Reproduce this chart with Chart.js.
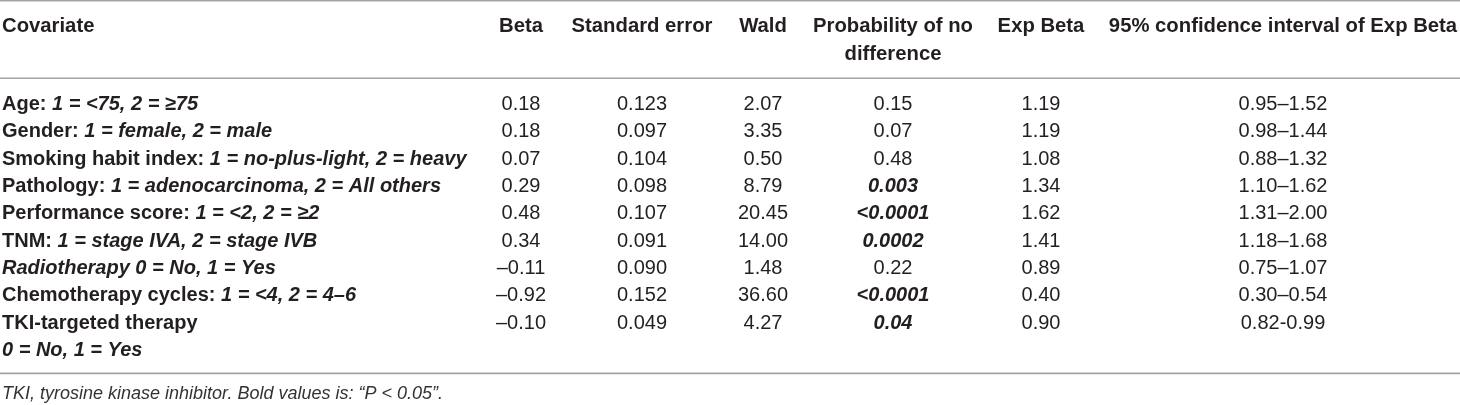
<!DOCTYPE html>
<html>
<head>
<meta charset="utf-8">
<script src="https://cdn.jsdelivr.net/npm/chart.js@4.4.1/dist/chart.umd.min.js"></script>
<style>
  html, body { margin: 0; padding: 0; background: #ffffff; }
  #wrap { position: relative; width: 1460px; height: 405px; }
</style>
</head>
<body>
<div id="wrap"><canvas id="c"></canvas></div>
<script>
// ---------------- DATA ----------------
const HEADERS = ['Covariate', 'Beta', 'Standard error', 'Wald', 'Probability of no\ndifference', 'Exp Beta', '95% confidence interval of Exp Beta'];
const COVARIATE_NAME = ['Age: ', 'Gender: ', 'Smoking habit index: ', 'Pathology: ', 'Performance score: ', 'TNM: ', '', 'Chemotherapy cycles: ', 'TKI-targeted therapy'];
const COVARIATE_CODING = ['1 = <75, 2 = \u226575', '1 = female, 2 = male', '1 = no-plus-light, 2 = heavy', '1 = adenocarcinoma, 2 = All others', '1 = <2, 2 = \u22652', '1 = stage IVA, 2 = stage IVB', 'Radiotherapy 0 = No, 1 = Yes', '1 = <4, 2 = 4\u20136', '0 = No, 1 = Yes'];
const BETA = [0.18, 0.18, 0.07, 0.29, 0.48, 0.34, -0.11, -0.92, -0.10];
const STD_ERROR = [0.123, 0.097, 0.104, 0.098, 0.107, 0.091, 0.090, 0.152, 0.049];
const WALD = [2.07, 3.35, 0.50, 8.79, 20.45, 14.00, 1.48, 36.60, 4.27];
const P_NO_DIFF = ['0.15', '0.07', '0.48', '0.003', '<0.0001', '0.0002', '0.22', '<0.0001', '0.04'];
const EXP_BETA = [1.19, 1.19, 1.08, 1.34, 1.62, 1.41, 0.89, 0.40, 0.90];
const CI_EXP_BETA = ['0.95\u20131.52', '0.98\u20131.44', '0.88\u20131.32', '1.10\u20131.62', '1.31\u20132.00', '1.18\u20131.68', '0.75\u20131.07', '0.30\u20130.54', '0.82-0.99'];
const FOOTNOTE = 'TKI, tyrosine kinase inhibitor. Bold values is: \u201cP < 0.05\u201d.';

// ---------------- LAYOUT / STYLE ----------------
const COL_WIDTHS = [474, 94, 148, 94, 166, 130, 354];
const FONT = '"Liberation Sans", Arial, Helvetica, sans-serif';
const SIZE = 20;
const HEAD_SIZE = 20.3;
const FOOT_SIZE = 18;
const TEXT_COLOR = '#231f20';
const RULE_COLOR = '#a3a3a3';

// row keys for the category y axis (9 covariates + wrapped second line of the last one)
const ROW_KEYS = COVARIATE_NAME.map((_, i) => 'row' + i).concat(['row8b']);

const fmtNum = (v, d) => (v < 0 ? '\u2013' : '') + Math.abs(v).toFixed(d);
const isSig = s => parseFloat(s.replace('<', '')) < 0.05;

const colLeft = [];
COL_WIDTHS.reduce((acc, w, i) => { colLeft[i] = acc; return acc + w; }, 0);
const TOTAL_W = COL_WIDTHS.reduce((a, b) => a + b, 0);
const colCenter = i => colLeft[i] + COL_WIDTHS[i] / 2;

// covariate cells: array of segments
const covCells = [];
const covKeys = [];
COVARIATE_NAME.forEach((name, i) => {
  if (i === COVARIATE_NAME.length - 1) {
    covCells.push([{ t: name, s: 'bold' }]);
    covKeys.push(ROW_KEYS[i]);
    covCells.push([{ t: COVARIATE_CODING[i], s: 'italic bold' }]);
    covKeys.push('row8b');
  } else {
    const segs = [];
    if (name) segs.push({ t: name, s: 'bold' });
    segs.push({ t: COVARIATE_CODING[i], s: 'italic bold' });
    covCells.push(segs);
    covKeys.push(ROW_KEYS[i]);
  }
});

function numericColumn(colIdx, texts, styles) {
  return {
    label: HEADERS[colIdx],
    data: texts.map((_, r) => ({ x: colCenter(colIdx), y: ROW_KEYS[r] })),
    cells: texts.map((t, r) => [{ t: t, s: styles ? styles[r] : 'normal' }]),
    align: 'center',
    pointRadius: 0,
    showLine: false
  };
}

const datasets = [
  {
    label: HEADERS[0],
    data: covKeys.map(k => ({ x: colLeft[0] + 2, y: k })),
    cells: covCells,
    align: 'left',
    pointRadius: 0,
    showLine: false
  },
  numericColumn(1, BETA.map(v => fmtNum(v, 2))),
  numericColumn(2, STD_ERROR.map(v => fmtNum(v, 3))),
  numericColumn(3, WALD.map(v => fmtNum(v, 2))),
  numericColumn(4, P_NO_DIFF, P_NO_DIFF.map(s => isSig(s) ? 'italic bold' : 'normal')),
  numericColumn(5, EXP_BETA.map(v => fmtNum(v, 2))),
  numericColumn(6, CI_EXP_BETA)
];

const tablePlugin = {
  id: 'tablePlugin',
  beforeDraw(chart) {
    const ctx = chart.ctx;
    ctx.save();
    ctx.fillStyle = '#ffffff';
    ctx.fillRect(0, 0, chart.width, chart.height);
    ctx.restore();
  },
  afterDatasetsDraw(chart) {
    const ctx = chart.ctx;
    const area = chart.chartArea;
    const xs = chart.scales.x;
    const rowStep = chart.scales.y.getPixelForValue(1) - chart.scales.y.getPixelForValue(0);
    ctx.save();

    // rules
    ctx.strokeStyle = RULE_COLOR;
    ctx.lineWidth = 1.6;
    const hline = y => { ctx.beginPath(); ctx.moveTo(xs.getPixelForValue(0), y); ctx.lineTo(xs.getPixelForValue(TOTAL_W), y); ctx.stroke(); };
    hline(0.8);
    hline(area.top - rowStep * 0.45);
    hline(area.bottom + rowStep * 0.36);

    // header
    ctx.fillStyle = TEXT_COLOR;
    ctx.textBaseline = 'middle';
    ctx.font = 'bold ' + HEAD_SIZE + 'px ' + FONT;
    const headY = area.top - rowStep * 2.33;
    HEADERS.forEach((h, i) => {
      const lines = h.split('\n');
      lines.forEach((ln, k) => {
        const y = headY + k * rowStep * 1.02;
        if (i === 0) { ctx.textAlign = 'left'; ctx.fillText(ln, xs.getPixelForValue(colLeft[0] + 2), y); }
        else { ctx.textAlign = 'center'; ctx.fillText(ln, xs.getPixelForValue(colCenter(i)), y); }
      });
    });

    // cells
    chart.data.datasets.forEach((ds, di) => {
      const meta = chart.getDatasetMeta(di);
      meta.data.forEach((pt, r) => {
        const segs = ds.cells[r];
        const widths = segs.map(sg => { ctx.font = sg.s + ' ' + SIZE + 'px ' + FONT; return ctx.measureText(sg.t).width; });
        const total = widths.reduce((a, b) => a + b, 0);
        let x = ds.align === 'center' ? pt.x - total / 2 : pt.x;
        ctx.textAlign = 'left';
        segs.forEach((sg, k) => {
          ctx.font = sg.s + ' ' + SIZE + 'px ' + FONT;
          ctx.fillText(sg.t, x, pt.y + 0.5);
          x += widths[k];
        });
      });
    });

    // footnote
    ctx.font = 'italic ' + FOOT_SIZE + 'px ' + FONT;
    ctx.fillStyle = '#333333';
    ctx.textAlign = 'left';
    ctx.fillText(FOOTNOTE, xs.getPixelForValue(colLeft[0] + 2), area.bottom + rowStep * 1.12);
    ctx.restore();
  }
};

new Chart(document.getElementById('c'), {
  type: 'scatter',
  data: { datasets: datasets },
  options: {
    responsive: true,
    maintainAspectRatio: false,
    animation: false,
    events: [],
    layout: { padding: { left: 0, right: 0, top: 90.5, bottom: 41.5 } },
    plugins: { legend: { display: false }, tooltip: { enabled: false } },
    scales: {
      x: { type: 'linear', min: 0, max: TOTAL_W, display: false },
      y: { type: 'category', labels: ROW_KEYS, offset: true, display: false }
    }
  },
  plugins: [tablePlugin]
});
</script>
</body>
</html>
